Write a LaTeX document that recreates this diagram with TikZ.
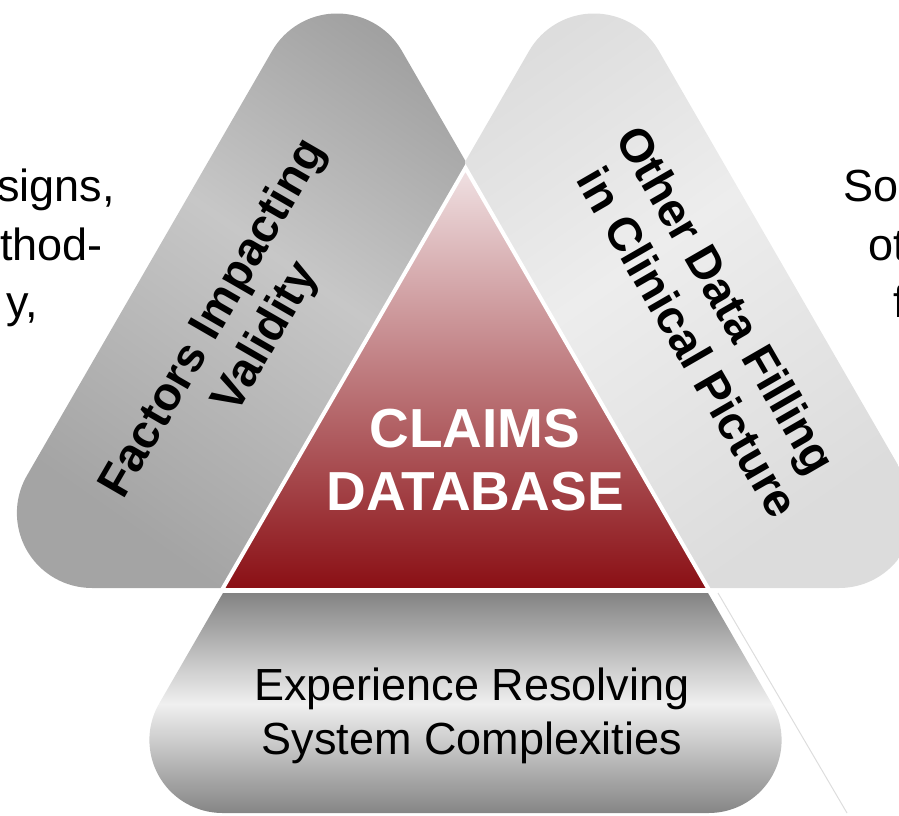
\documentclass[tikz,border=0pt]{standalone}
\usepackage{fontspec}
\setmainfont{Liberation Sans}
\usetikzlibrary{calc}
\definecolor{ldark}{HTML}{979797}
\definecolor{lmid}{HTML}{C7C7C7}
\definecolor{llow}{HTML}{A4A4A4}
\definecolor{rdark}{HTML}{D8D8D8}
\definecolor{rmid}{HTML}{EDEDED}
\definecolor{rlow}{HTML}{DCDCDC}
\definecolor{bdark}{HTML}{838383}
\definecolor{bmid}{HTML}{F0F0F0}
\definecolor{ctop}{HTML}{F0E1E3}
\definecolor{cbot}{HTML}{8A0F14}
\definecolor{thinline}{HTML}{DDDDDD}
\tikzset{
  rotlabel/.style={font=\bfseries\fontsize{47}{55}\selectfont, align=center, inner sep=0pt, text=black},
  plainlabel/.style={font=\fontsize{45}{54}\selectfont, align=center, inner sep=0pt, text=black},
  sidetext/.style={font=\fontsize{45}{54}\selectfont, inner sep=0pt, text=black},
  claimlabel/.style={font=\bfseries\fontsize{55}{63}\selectfont, align=center, inner sep=0pt, text=white},
}
\begin{document}
\begin{tikzpicture}[x=1pt,y=1pt]
\useasboundingbox (0,0) rectangle (899,815);
% left rounded triangle
\begin{scope}
\clip (-100,-100) rectangle (465.5,900);
\shade[top color=ldark, bottom color=llow, middle color=lmid, shading angle=-35]
 (91.9,227) -- (582.1,227) arc[start angle=-90,end angle=30,radius=75]
 -- (401.95,764) arc[start angle=30,end angle=150,radius=75]
 -- (26.95,339.5) arc[start angle=150,end angle=270,radius=75] -- cycle;
\end{scope}
% right rounded triangle
\begin{scope}
\clip (465.5,-100) rectangle (1000,900);
\shade[top color=rdark, bottom color=rlow, middle color=rmid, shading angle=35]
 (348.9,227) -- (839.1,227) arc[start angle=-90,end angle=30,radius=75]
 -- (658.95,764) arc[start angle=30,end angle=150,radius=75]
 -- (283.95,339.5) arc[start angle=150,end angle=270,radius=75] -- cycle;
\end{scope}
% bottom rounded triangle
\begin{scope}
\clip (0,-10) rectangle (899,222);
\clip (222.4,2) -- (708.6,2) arc[start angle=-90,end angle=30,radius=73]
 -- (528.72,532.5) arc[start angle=30,end angle=150,radius=73]
 -- (159.18,111.5) arc[start angle=150,end angle=270,radius=73] -- cycle;
\shade[top color=bdark, bottom color=bdark, middle color=bmid] (100,0) rectangle (800,222);
\end{scope}
% center triangle
\shadedraw[draw=white, line width=4pt, line join=miter, top color=ctop, bottom color=cbot]
 (465.5,647) -- (709.1,225) -- (221.9,225) -- cycle;
% thin line
\coordinate (t1) at (718,222);
\coordinate (t2) at (847,2);
\draw[thinline, line width=1pt] (t1) -- (t2);
% labels
\node[rotlabel, rotate=60] (fiv) at (238,482) {Factors Impacting\\\hspace*{20pt}Validity};
\node[rotlabel, rotate=-60] (odf) at (703,502) {Other Data Filling\\\hspace*{36pt}in Clinical Picture};
\node[claimlabel] (cdb) at (475,355) {CLAIMS\\DATABASE};
\node[plainlabel] (ers) at (472,99) {Experience Resolving\\System Complexities};
% side texts (cut off)
\node[sidetext, anchor=base east] (l1) at (115,613) {signs,};
\node[sidetext, anchor=base east] (l2) at (103,554) {thod-};
\node[sidetext, anchor=base east] (l3) at (38,497) {y,};
\node[sidetext, anchor=base west] (r1) at (843,613) {So};
\node[sidetext, anchor=base west] (r2) at (868,554) {ot};
\node[sidetext, anchor=base west] (r3) at (893,497) {f};
\end{tikzpicture}
\end{document}
